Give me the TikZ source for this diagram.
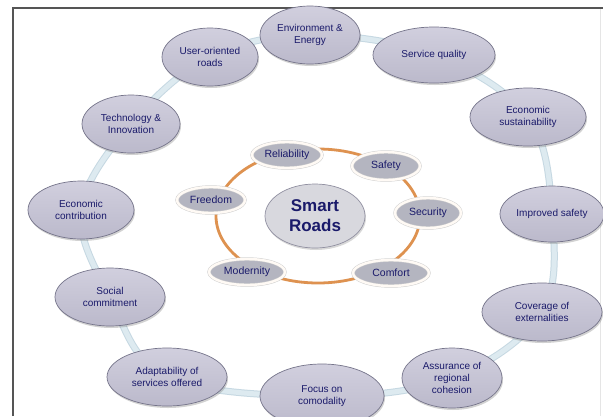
\documentclass[tikz,border=0pt]{standalone}
\usepackage{fontspec}
\setmainfont{Liberation Sans}
\usetikzlibrary{shapes.geometric,shadows,backgrounds}
\definecolor{ringblue}{HTML}{DDEAF0}
\definecolor{ringedge}{HTML}{C6D8E2}
\definecolor{ovaltop}{HTML}{D1CFDE}
\definecolor{ovalbot}{HTML}{BBB9CB}
\definecolor{ovaledge}{HTML}{75748A}
\definecolor{txt}{HTML}{1A1A6A}
\definecolor{orng}{HTML}{DE9250}
\definecolor{innerfill}{HTML}{B4B5C0}
\definecolor{smartfill}{HTML}{D8D8DE}
\definecolor{framec}{HTML}{555555}
\begin{document}
\begin{tikzpicture}[x=1pt,y=-1pt,
  outer/.style 2 args={ellipse, draw=ovaledge, line width=0.7pt,
    top color=ovaltop, bottom color=ovalbot,
    minimum width=#1pt, minimum height=#2pt, inner sep=0pt,
    align=center, text=txt, font=\fontsize{10}{11.6}\selectfont,
    drop shadow={shadow xshift=1pt, shadow yshift=-2pt, opacity=0.35}},
  inner/.style 2 args={ellipse, draw=black!18, line width=0.5pt,
    double=white!96!orange, double distance=2.4pt, fill=innerfill,
    minimum width=#1pt, minimum height=#2pt, inner sep=0pt,
    text=txt, font=\fontsize{10.5}{12}\selectfont,
    drop shadow={shadow xshift=0.8pt, shadow yshift=-1.2pt, opacity=0.25}},
  hub/.style={ellipse, draw=ovaledge!80, line width=0.7pt, fill=smartfill,
    minimum width=100pt, minimum height=64pt, inner sep=0pt, align=center,
    text=txt, font=\fontsize{17}{20}\selectfont\bfseries,
    drop shadow={shadow xshift=1pt, shadow yshift=-2pt, opacity=0.3}}
]
\useasboundingbox (0,0) rectangle (603,416);
% frame
\draw[black!10, line width=1pt] (600,8) -- (600,416);
\draw[framec, line width=1.6pt] (13,416) -- (13,8) -- (603,8);

% outer ring nodes
\node[outer={100}{58}] (env)   at (310,35)  {Environment \&\\Energy};
\node[outer={96}{58}]  (user)  at (210,57)  {User-oriented\\roads};
\node[outer={122}{56}] (serv)  at (434,55)  {Service quality};
\node[outer={116}{58}] (esus)  at (528,117) {Economic\\sustainability};
\node[outer={98}{58}]  (tech)  at (131,124) {Technology \&\\Innovation};
\node[outer={106}{58}] (econ)  at (81,210)  {Economic\\contribution};
\node[outer={104}{56}] (imp)   at (552,214) {Improved safety};
\node[outer={110}{58}] (soc)   at (110,297) {Social\\commitment};
\node[outer={120}{58}] (cov)   at (542,312) {Coverage of\\externalities};
\node[outer={120}{58}] (adap)  at (167,377) {Adaptability of\\services offered};
\node[outer={124}{64}] (focus) at (322,396) {Focus on\\comodality};
\node[outer={100}{60}] (assur) at (452,378) {Assurance of\\regional\\cohesion};

% hub and inner nodes
\node[hub] (smart) at (315,216) {Smart\\Roads};
\node[inner={70}{26}] (rel)  at (287,155) {Reliability};
\node[inner={68}{28}] (saf)  at (386,166) {Safety};
\node[inner={66}{30}] (sec)  at (428,213) {Security};
\node[inner={76}{26}] (com)  at (391,273) {Comfort};
\node[inner={76}{26}] (mod)  at (247,272) {Modernity};
\node[inner={68}{26}] (free) at (211,200) {Freedom};

\begin{scope}[on background layer]
  \fill[white] (0,0) rectangle (603,416);
  \draw[ringedge, line width=7pt] plot[smooth cycle, tension=0.6] coordinates
    {(env.center) (serv.center) (esus.center) (imp.center) (cov.center)
     (assur.center) (focus.center) (adap.center) (soc.center) (econ.center)
     (tech.center) (user.center)};
  \draw[ringblue, line width=5pt] plot[smooth cycle, tension=0.6] coordinates
    {(env.center) (serv.center) (esus.center) (imp.center) (cov.center)
     (assur.center) (focus.center) (adap.center) (soc.center) (econ.center)
     (tech.center) (user.center)};
  \draw[orng, line width=2.8pt] ([xshift=3pt]smart.center) ellipse [x radius=102pt, y radius=67pt];
\end{scope}
\end{tikzpicture}
\end{document}
